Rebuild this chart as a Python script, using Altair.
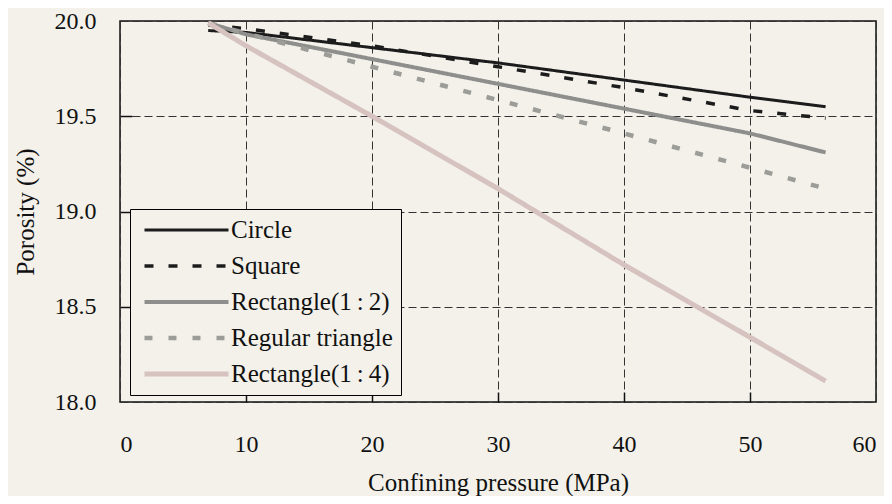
import altair as alt
import pandas as pd

# ---- data ----
pressure = [7, 10, 20, 30, 40, 50, 56]
circle = [19.95, 19.94, 19.86, 19.78, 19.69, 19.60, 19.55]
square = [19.98, 19.96, 19.87, 19.76, 19.65, 19.53, 19.49]
rect12 = [19.99, 19.93, 19.80, 19.67, 19.54, 19.41, 19.31]
triangle = [19.99, 19.935, 19.76, 19.585, 19.41, 19.23, 19.12]
rect14 = [19.99, 19.87, 19.50, 19.12, 18.72, 18.34, 18.11]

series_names = ["Circle", "Square", "Rectangle(1\u2009:\u20092)", "Regular triangle", "Rectangle(1\u2009:\u20094)"]
series_values = [circle, square, rect12, triangle, rect14]

x_ticks = [0, 10, 20, 30, 40, 50, 60]
y_ticks = [18.0, 18.5, 19.0, 19.5, 20.0]
x_inner_ticks = [10, 20, 30, 40, 50]
y_inner_ticks = [18.5, 19.0, 19.5]

# ---- styles ----
colors = ["#1c1c1c", "#1c1c1c", "#8e8e8c", "#9c9c98", "#d6c2be"]
dashes = [[1, 0], [9, 15], [1, 0], [8, 16], [1, 0]]
widths = [3, 5, 2.5, 4.5, 4]
BG = "#f3f1ea"
FONT = "Liberation Serif"

rows = []
for name, vals in zip(series_names, series_values):
    for p, v in zip(pressure, vals):
        rows.append({"shape": name, "p": p, "v": v})
df = pd.DataFrame(rows)

W, H = 756, 381
xscale = alt.Scale(domain=[0, 60], nice=False, zero=False)
yscale = alt.Scale(domain=[18, 20], nice=False, zero=False)

legend = alt.Legend(
    title=None, orient="none", legendX=10, legendY=188,
    symbolType="stroke", symbolSize=7056, clipHeight=26, rowPadding=10,
    padding=8, strokeColor="black", fillColor=BG,
    labelFont=FONT, labelFontSize=25, labelColor="#111", labelLimit=400,
    labelOffset=0, symbolOffset=4,
)

lines = alt.Chart(df).mark_line(strokeCap="butt").encode(
    x=alt.X("p:Q", scale=xscale, axis=alt.Axis(
        values=x_ticks, grid=True, gridDash=[8, 4], gridColor="#333", gridWidth=1,
        ticks=False, tickSize=0, domain=False, labelPadding=30,
        labelFont=FONT, labelFontSize=24, labelColor="#111",
        title="Confining pressure (MPa)", titleFont=FONT, titleFontSize=25,
        titleFontWeight="normal", titleColor="#111", titlePadding=14)),
    y=alt.Y("v:Q", scale=yscale, axis=alt.Axis(
        values=y_ticks, format=".1f", grid=True, gridDash=[8, 4], gridColor="#333", gridWidth=1,
        ticks=False, tickSize=0, domain=False, labelPadding=24,
        labelFont=FONT, labelFontSize=24, labelColor="#111",
        title="Porosity (%)", titleFont=FONT, titleFontSize=25,
        titleFontWeight="normal", titleColor="#111", titlePadding=16)),
    color=alt.Color("shape:N", sort=series_names,
                    scale=alt.Scale(domain=series_names, range=colors), legend=legend),
    strokeDash=alt.StrokeDash("shape:N", sort=series_names,
                              scale=alt.Scale(domain=series_names, range=dashes), legend=legend),
    strokeWidth=alt.StrokeWidth("shape:N", sort=series_names,
                                scale=alt.Scale(domain=series_names, range=widths), legend=legend),
    order=alt.Order("p:Q"),
)

tick_layer = alt.Chart(df).mark_line(opacity=0).encode(
    x=alt.X("p:Q", scale=xscale, axis=alt.Axis(
        orient="top", offset=-H, values=x_inner_ticks, labels=False, domain=False, grid=False,
        ticks=True, tickSize=10, tickColor="#111", tickWidth=1.5, title=None)),
    y=alt.Y("v:Q", scale=yscale, axis=alt.Axis(
        orient="right", offset=-W, values=y_inner_ticks, labels=False, domain=False, grid=False,
        ticks=True, tickSize=12, tickColor="#111", tickWidth=1.5, title=None)),
    detail="shape:N",
)

chart = alt.layer(tick_layer, lines).resolve_axis(
    x="independent", y="independent"
).properties(
    width=W, height=H,
    autosize=alt.AutoSizeParams(type="none"),
    padding={"left": 112, "top": 13, "right": 8, "bottom": 94},
    background=BG,
).configure(
    font=FONT
).configure_axis(
    labelFont=FONT, titleFont=FONT
).configure_legend(
    labelFont=FONT, titleFont=FONT
).configure_view(stroke="#111", strokeWidth=1.5)

chart.save("out.html", embed_options={"renderer": "svg", "actions": False})
